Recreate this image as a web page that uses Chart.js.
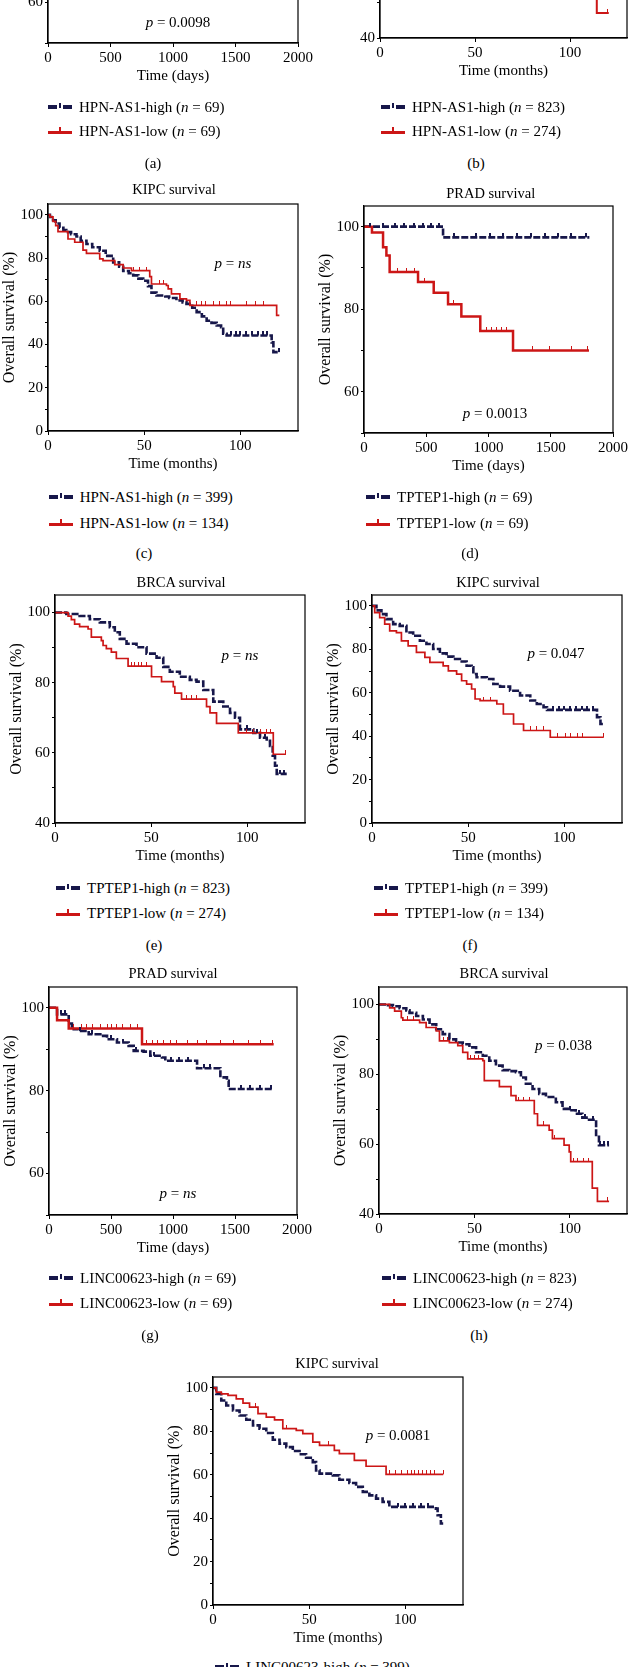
<!DOCTYPE html>
<html>
<head>
<meta charset="utf-8">
<script src="https://cdn.jsdelivr.net/npm/chart.js@4.4.0/dist/chart.umd.min.js"></script>
<style>
  html, body { margin: 0; padding: 0; background: #fff; }
  body { position: relative; width: 629px; height: 1667px; overflow: hidden;
         font-family: "Liberation Serif", "Times New Roman", serif; font-size: 15px; color: #000; }
  canvas { position: absolute; }
  .txt { position: absolute; white-space: nowrap; line-height: 18px; }
  .mid { transform: translate(-50%, -50%); }
  .ttl { font-size: 14.5px; }
  .leg { transform: translateY(-50%); }
  .mark { position: absolute; width: 24px; height: 10px; transform: translateY(-50%); }
  .mark span { position: absolute; }
</style>
</head>
<body>
<script>
const NAVY = "#17174a";
const RED = "#cc1616";

// axis ticks
const pctTicks = [0, 10, 20, 30, 40, 50, 60, 70, 80, 90, 100];
const pctTicks40 = [40, 50, 60, 70, 80, 90, 100];
const pctTicks50 = [50, 60, 70, 80, 90, 100];
const pctLabels = [0, 20, 40, 60, 80, 100];
const dayTicks = [0, 500, 1000, 1500, 2000];
const monthTicks = [0, 50, 100];

// (b) BRCA, HPN-AS1 - only the tail of the low curve is on the page
const bLow = [[114.1, 52], [114.1, 47.1], [120.4, 47.1]];
const bLowCens = [119.8];

// (c) KIPC, HPN-AS1
const cHigh = [[0,100],[1,99],[2.6,97.5],[4,96],[6,94],[8,93],[9.5,92],[12,91],[14.8,90],[17,88],[20,86.5],[23,85],
  [26.9,83.4],[30,81],[33.9,78],[37,76],[39.1,74],[42,73],[44.3,72],[47,70.5],[49.5,69.5],[52,67],[53.8,64],
  [56.4,62.7],[61,62.2],[63,61.5],[66.8,60.4],[70,59.5],[72,58.8],[75,57],[77.3,55],[80,53],[82.5,51],[85,50],
  [87.7,48.8],[90,48],[91.1,45],[92.9,44.2],[116.3,41],[117.2,36.5],[120.3,36.5]];
const cHighCens = [95, 98, 100, 103, 106, 109, 112, 114, 120];
const cLow = [[0,100],[1,99],[2.6,97],[4,95],[5.2,92.2],[10.4,88.8],[13.9,87.3],[18.2,83.7],[20,82.2],[26.9,79.6],
  [28.6,78.8],[34.7,77],[39.1,75.4],[43.4,74.2],[52.9,71.4],[53.8,68],[61.6,67.3],[62.5,65.7],[64.2,63.4],
  [68.6,61.1],[72,60.4],[73.8,58.1],[118.9,53.5],[120.3,53.5]];
const cLowCens = [44.3, 47.7, 51.2, 58, 60, 77, 80, 82, 86, 89, 93, 95, 103, 108, 112];

// (d) PRAD, TPTEP1
const dHigh = [[0,100],[635,97.4],[1810,97.4]];
const dHighCens = [50, 150, 250, 320, 400, 470, 540, 600, 720, 900, 1010, 1120, 1230, 1340, 1450, 1560, 1660, 1780];
const dLow = [[0,100],[64,98.6],[153,95],[180,93],[206,89],[434,86.6],[560,84],[675,81.2],[782,78.2],[934,74.7],
  [1197,70],[1807,70]];
const dLowCens = [273, 340, 407, 487, 715, 982, 1023, 1063, 1103, 1143, 1357, 1491, 1665, 1799];

// (e) BRCA, TPTEP1
const eHigh = [[0,100],[5.9,99.6],[12.8,99],[18.1,98.1],[23.3,97.2],[28.5,95.8],[31.1,94.4],[33.7,92.5],[37.2,91.1],
  [42.4,90.1],[47.6,88.3],[52.8,87.1],[56.3,84.5],[59.7,83.1],[64.9,81.7],[70.1,80.8],[73.6,80.3],[77.1,77.9],
  [82.3,74.6],[87.5,73.2],[91,71.4],[93.6,70],[96.2,66.7],[103.1,65.7],[106.6,64.3],[110.1,63.4],[111.8,62],
  [113.2,59.2],[114.4,56.3],[115.3,54],[120.5,54]];
const eHighCens = [100, 105, 109, 117, 119];
const eLow = [[0,100],[6.8,99],[8.5,98],[10.2,96.7],[12.8,96],[17.2,95.3],[18.9,93],[24.1,92],[25,90.6],[26.7,89.7],
  [29.3,88.7],[31.9,86.9],[38,84.7],[50.2,81.7],[55.4,80.3],[61.5,78.9],[62.3,77],[65.8,75.3],[78.8,73.2],
  [80.6,71.4],[84,68.4],[95.3,65.7],[113.5,59.6],[120.1,59.6]];
const eLowCens = [39.8, 41.5, 43.2, 45, 47.6, 68.4, 71, 73.6, 99.7, 103.1, 106.6, 110, 111.8, 120];

// (f) KIPC, TPTEP1
const fHigh = [[0,100],[2.3,97.9],[4.9,96.2],[7.5,93.9],[11,91.6],[14.4,90.8],[17.9,87.7],[21.4,86.2],[24.9,83.9],
  [28.3,82.4],[31.8,80.1],[35.3,78.1],[38.8,76.6],[42.3,75.5],[45.7,74.4],[49.2,72.4],[51.8,71.7],[52.7,68.6],
  [54.4,67.1],[59.7,66.3],[63.1,64],[66.6,62.8],[71.8,60.9],[77,58.7],[82.3,56.4],[85.7,54.8],[89.2,53.3],
  [91,52.1],[117,48.7],[118.8,45.6],[120.5,45.6]];
const fHighCens = [94, 97, 100, 103, 106, 109, 112, 115];
const fLow = [[0,100],[1.4,96.9],[4,94.6],[6.6,91.6],[9.2,88.5],[12.7,87.7],[15.3,83.9],[18.8,81.6],[23.1,78.6],
  [27.5,76.3],[30.1,74],[37,72.4],[39.7,70.1],[44,68.6],[46.6,65.5],[49.2,64],[51.8,61.7],[53.6,57.1],
  [56.2,56.4],[64.9,54.8],[68.3,50.2],[73.6,45.6],[78.8,42.6],[92.7,39.5],[120.5,39.5]];
const fLowCens = [57.9, 61.4, 82.3, 85.7, 89.2, 96.2, 100.5, 103.1, 106.6, 109.7, 120.3];

// (g) PRAD, LINC00623
const gHigh = [[0,100],[65,98.4],[159,96.2],[185,94.8],[239,94.4],[320,93.6],[414,93.2],[468,92.4],[548,91.6],
  [642,90.8],[683,89.6],[763,89.4],[817,88.4],[911,88],[938,87.2],[1194,85.4],[1382,83.2],[1435,82.4],
  [1449,80.4],[1812,80.4]];
const gHighCens = [100, 130, 250, 350, 500, 600, 700, 850, 980, 1050, 1120, 1250, 1300, 1550, 1620, 1700, 1790];
const gLow = [[0,100],[65,97],[159,95],[750,91.2],[1812,91.2]];
const gLowCens = [199, 266, 306, 347, 414, 468, 508, 548, 589, 656, 710, 790, 831, 871, 925, 978, 1032, 1113,
  1194, 1274, 1382, 1489, 1610, 1704, 1806];

// (h) BRCA, LINC00623
const hHigh = [[0,100],[4.7,99.8],[7.3,99.5],[10.8,98.9],[14.3,98.3],[16,97.6],[19.5,96.7],[23,95.7],[26.5,94.3],
  [30,92.9],[33.4,91.5],[36.9,90],[40.4,89.1],[43.9,88.6],[47.4,87.7],[50.9,86.3],[54.4,85.3],[57.8,83.9],
  [61.3,82.5],[64.8,81.2],[68.3,80.9],[71.8,80.6],[74.4,79.1],[77,77.3],[80.5,75.8],[84,74.4],[87.5,73.5],
  [92.7,72],[96.2,70.1],[99.7,69.7],[103.1,68.7],[106.6,67.6],[110.1,67],[113.8,62.1],[115.3,59.7],[120.6,59.7]];
const hHighCens = [100, 105, 108, 112, 116, 118, 120];
const hLow = [[0,100],[5.6,99],[8.2,98.1],[11.7,96.2],[12.5,95.5],[21.3,94.8],[24.7,93.4],[30,92.4],[31.7,89.6],
  [36.9,89.1],[41.3,88.2],[43.9,86.3],[46.5,84.4],[54.4,83.9],[55.2,78.2],[63.1,76.5],[69.2,73.9],[71.8,72.5],
  [81.4,68.7],[83.1,65.4],[89.2,64],[90.9,61.6],[97,59.7],[99.7,57.8],[100.5,55],[111.8,47.4],[114.5,43.6],
  [120.6,43.6]];
const hLowCens = [15, 18, 34, 36, 48, 50, 52, 73, 76, 79, 86, 92, 102, 104, 107, 110, 120];

// (i) KIPC, LINC00623
const iHigh = [[0,100],[1.7,97.2],[4.3,94.2],[6.9,91.9],[10.4,89.6],[13.8,87.3],[17.3,85.3],[20.8,82.7],[24.2,81.2],
  [27.7,79.2],[31.1,76.1],[34.6,74.3],[38.1,72.7],[41.5,70.9],[45,69.4],[48.4,67.8],[51.9,65.8],[53.6,62],
  [55.4,60.5],[62.3,59.7],[65.7,57.7],[70.9,56.2],[74.4,54.4],[77.9,52.1],[81.3,50.5],[84.8,49],[88.2,47.5],
  [91.7,45.2],[115.9,44.4],[116.8,41.3],[118.5,37.5],[119.7,37.5]];
const iHighCens = [96, 100, 104, 108, 112];
const iLow = [[0,100],[1.7,98],[4.3,97.2],[7.8,96.5],[12.1,94.9],[15.6,93],[19,91.1],[23.4,88.1],[27.7,86.5],
  [32,85.3],[36.3,81.2],[43.3,80.4],[46.7,78.9],[51.9,75],[55.4,73.5],[63.1,71.2],[65.7,69.7],[73.5,66.6],
  [79.6,63.9],[90,60.2],[119.7,60.2]];
const iLowCens = [22, 38, 60, 92, 95, 98, 101, 103, 105, 107, 109, 111, 113, 115, 119.7];

// panel layout (page pixels): plot box [left, top, width, height]
const panels = [
  { box: [48, -183, 250, 225.7], days: true, yMin: 50, yTicks: pctTicks50,
    p: "<i>p</i> = 0.0098", pAt: [178, 21.7], tag: ["(a)", 153, 162.7],
    legend: ["HPN-AS1-high (<i>n</i> = 69)", "HPN-AS1-low (<i>n</i> = 69)"], legAt: [48, 106.7, 131] },
  { box: [380, -191, 247, 228.7], days: false, yMin: 40, yTicks: pctTicks40,
    low: bLow, lowCens: bLowCens, lowWidth: 2, tag: ["(b)", 476, 162.7],
    legend: ["HPN-AS1-high (<i>n</i> = 823)", "HPN-AS1-low (<i>n</i> = 274)"], legAt: [381, 106.7, 131] },
  { box: [48, 203, 250, 228], days: false, yMin: 0, yTicks: pctTicks,
    title: ["KIPC survival", 174, 189.3], p: "<i>p</i> = <i>ns</i>", pAt: [233, 262.7],
    high: cHigh, highCens: cHighCens, low: cLow, lowCens: cLowCens, tag: ["(c)", 144, 553.3],
    legend: ["HPN-AS1-high (<i>n</i> = 399)", "HPN-AS1-low (<i>n</i> = 134)"], legAt: [48.7, 497.3, 522.7] },
  { box: [364, 205, 249, 228], days: true, yMin: 50, yTicks: pctTicks50,
    title: ["PRAD survival", 490.7, 192.7], p: "<i>p</i> = 0.0013", pAt: [495, 413.3],
    high: dHigh, highCens: dHighCens, low: dLow, lowCens: dLowCens, lowWidth: 2.5, tag: ["(d)", 470, 553.3],
    legend: ["TPTEP1-high (<i>n</i> = 69)", "TPTEP1-low (<i>n</i> = 69)"], legAt: [366, 497.3, 522.7] },
  { box: [55, 594, 250, 229], days: false, yMin: 40, yTicks: pctTicks40,
    title: ["BRCA survival", 181, 581.7], p: "<i>p</i> = <i>ns</i>", pAt: [240, 655],
    high: eHigh, highCens: eHighCens, low: eLow, lowCens: eLowCens, tag: ["(e)", 154, 945],
    legend: ["TPTEP1-high (<i>n</i> = 823)", "TPTEP1-low (<i>n</i> = 274)"], legAt: [56, 888, 913] },
  { box: [372, 594, 250, 229], days: false, yMin: 0, yTicks: pctTicks,
    title: ["KIPC survival", 498, 582], p: "<i>p</i> = 0.047", pAt: [556, 653.3],
    high: fHigh, highCens: fHighCens, low: fLow, lowCens: fLowCens, tag: ["(f)", 470, 945],
    legend: ["TPTEP1-high (<i>n</i> = 399)", "TPTEP1-low (<i>n</i> = 134)"], legAt: [374, 888, 913] },
  { box: [49, 986, 248, 229], days: true, yMin: 50, yTicks: pctTicks50,
    title: ["PRAD survival", 173, 973], p: "<i>p</i> = <i>ns</i>", pAt: [178, 1193.3],
    high: gHigh, highCens: gHighCens, low: gLow, lowCens: gLowCens, lowWidth: 2.5, tag: ["(g)", 150, 1335],
    legend: ["LINC00623-high (<i>n</i> = 69)", "LINC00623-low (<i>n</i> = 69)"], legAt: [49, 1278.3, 1303] },
  { box: [379, 986, 248, 228], days: false, yMin: 40, yTicks: pctTicks40,
    title: ["BRCA survival", 504, 973], p: "<i>p</i> = 0.038", pAt: [563.5, 1045],
    high: hHigh, highCens: hHighCens, low: hLow, lowCens: hLowCens, tag: ["(h)", 479, 1335],
    legend: ["LINC00623-high (<i>n</i> = 823)", "LINC00623-low (<i>n</i> = 274)"], legAt: [382, 1278.3, 1303] },
  { box: [213, 1376, 250, 229], days: false, yMin: 0, yTicks: pctTicks,
    title: ["KIPC survival", 337, 1363], p: "<i>p</i> = 0.0081", pAt: [398, 1435],
    high: iHigh, highCens: iHighCens, low: iLow, lowCens: iLowCens,
    legend: ["LINC00623-high (<i>n</i> = 399)", "LINC00623-low (<i>n</i> = 134)"], legAt: [215, 1666.7, 1691] }
];

Chart.defaults.font.family = '"Liberation Serif", "Times New Roman", serif';
Chart.defaults.font.size = 15;
Chart.defaults.color = "#000";

// value of a step curve at time t (last step at or before t)
function survAt(curve, t) {
  let v = curve[0][1];
  for (const pt of curve) { if (pt[0] <= t) v = pt[1]; }
  return v;
}

// small upward censor tick used as point image
function censorMark(color, w, up) {
  const c = document.createElement("canvas");
  c.width = w; c.height = up * 2;
  const g = c.getContext("2d");
  g.fillStyle = color;
  g.fillRect(0, 0, w, up);
  return c;
}

function curveSet(data, color, width, dash) {
  return { data, borderColor: color, borderWidth: width, borderDash: dash, stepped: true,
           pointRadius: 0, fill: false, tension: 0 };
}

function censorSet(curve, times, color, w) {
  return { data: times.map(t => [t, survAt(curve, t)]), showLine: false,
           pointStyle: censorMark(color, w, 4), pointRadius: 3 };
}

const frame = {
  id: "frame",
  afterDraw(chart) {
    const { ctx, chartArea: a } = chart;
    ctx.save();
    ctx.strokeStyle = "#000";
    ctx.lineWidth = 1.2;
    ctx.strokeRect(a.left, a.top, a.right - a.left, a.bottom - a.top);
    ctx.restore();
  }
};

function addText(html, x, y, cls) {
  const d = document.createElement("div");
  d.className = "txt " + cls;
  d.style.left = x + "px";
  d.style.top = y + "px";
  d.innerHTML = html;
  document.body.appendChild(d);
}

function addMark(x, y, high) {
  const m = document.createElement("div");
  m.className = "mark";
  m.style.left = x + "px";
  m.style.top = y + "px";
  if (high) {
    m.innerHTML = '<span style="left:0;top:3px;width:9px;height:4px;background:' + NAVY + '"></span>' +
      '<span style="left:11px;top:1px;width:2px;height:5px;background:' + NAVY + '"></span>' +
      '<span style="left:15px;top:3px;width:9px;height:4px;background:' + NAVY + '"></span>';
  } else {
    m.innerHTML = '<span style="left:0;top:5px;width:24px;height:3px;background:' + RED + '"></span>' +
      '<span style="left:11px;top:1px;width:2px;height:5px;background:' + RED + '"></span>';
  }
  document.body.appendChild(m);
}

const padL = 52, padT = 10, padR = 22, padB = 46;

panels.forEach(p => {
  const [L, T, W, H] = p.box;
  const cv = document.createElement("canvas");
  cv.width = Math.round(W + padL + padR);
  cv.height = Math.round(H + padT + padB);
  cv.style.left = (L - padL) + "px";
  cv.style.top = (T - padT) + "px";
  cv.style.width = cv.width + "px";
  cv.style.height = cv.height + "px";
  document.body.appendChild(cv);

  const datasets = [];
  if (p.lowCens) datasets.push(censorSet(p.low, p.lowCens, RED, 1.5));
  if (p.highCens) datasets.push(censorSet(p.high, p.highCens, NAVY, 2));
  if (p.low) datasets.push(curveSet(p.low, RED, p.lowWidth || 1.7, []));
  if (p.high) datasets.push(curveSet(p.high, NAVY, 2.6, [7, 2]));

  const xTicks = p.days ? dayTicks : monthTicks;
  new Chart(cv, {
    type: "line",
    data: { datasets },
    plugins: [frame],
    options: {
      responsive: false,
      animation: false,
      layout: { padding: { left: 0, top: padT, right: cv.width - W - padL, bottom: 0 } },
      plugins: { legend: { display: false }, tooltip: { enabled: false } },
      scales: {
        x: {
          type: "linear", min: 0, max: p.days ? 2000 : 130,
          afterBuildTicks: s => { s.ticks = xTicks.map(v => ({ value: v })); },
          afterFit: s => { s.height = padB; },
          grid: { drawOnChartArea: false, drawTicks: true, tickLength: 4, color: "#000", lineWidth: 1 },
          border: { display: true, color: "#000", width: 1.2 },
          ticks: { padding: 2, maxRotation: 0, autoSkip: false, callback: v => String(v) },
          title: { display: true, text: p.days ? "Time (days)" : "Time (months)", padding: { top: 0, bottom: 3.5 } }
        },
        y: {
          type: "linear", min: p.yMin, max: 105,
          afterBuildTicks: s => { s.ticks = p.yTicks.map(v => ({ value: v })); },
          afterFit: s => { s.width = padL; },
          grid: { drawOnChartArea: false, drawTicks: true, tickLength: 3, color: "#000", lineWidth: 1 },
          border: { display: true, color: "#000", width: 1.2 },
          ticks: { padding: 2, autoSkip: false, callback: v => (pctLabels.includes(v) ? String(v) : "") },
          title: { display: true, text: "Overall survival (%)", font: { size: 16 }, padding: { top: 4.4, bottom: 0 } }
        }
      }
    }
  });

  if (p.title) addText(p.title[0], p.title[1], p.title[2], "mid ttl");
  if (p.p) addText(p.p, p.pAt[0], p.pAt[1], "mid");
  if (p.tag) addText(p.tag[0], p.tag[1], p.tag[2], "mid");
  const [mx, y1, y2] = p.legAt;
  addMark(mx, y1, true);
  addText(p.legend[0], mx + 31, y1, "leg");
  addMark(mx, y2, false);
  addText(p.legend[1], mx + 31, y2, "leg");
});
</script>
</body>
</html>
